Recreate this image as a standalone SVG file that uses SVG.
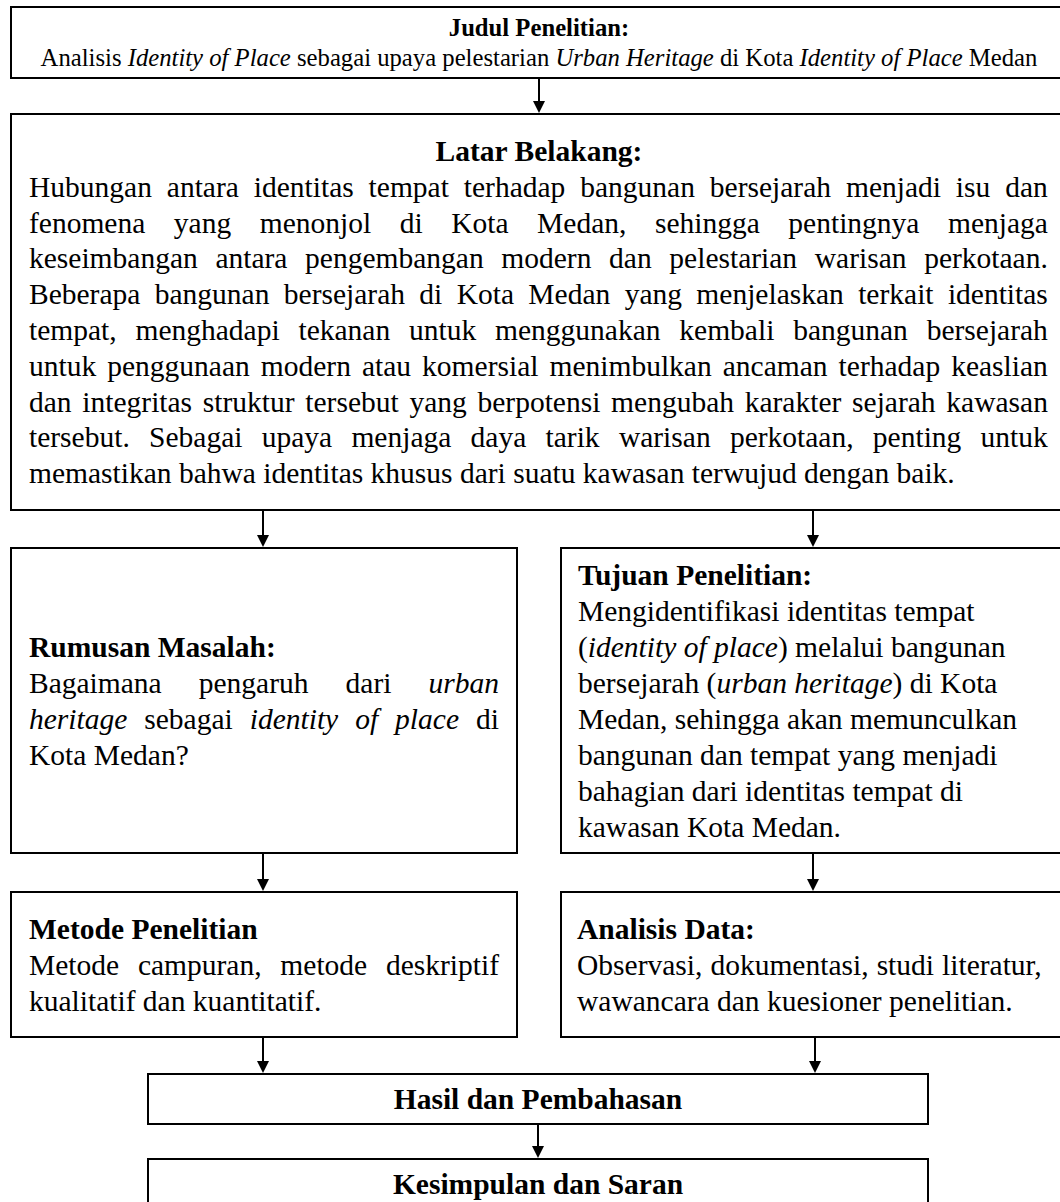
<svg xmlns="http://www.w3.org/2000/svg" width="1060" height="1202" viewBox="0 0 1060 1202">
<defs>
<style>
.box{fill:#fff;stroke:#000;stroke-width:2}
.t{font-family:"Liberation Serif","Times New Roman",serif;font-size:29.5px;fill:#000}
.s{font-family:"Liberation Serif","Times New Roman",serif;font-size:24.7px;fill:#000}
.b{font-weight:bold}
.i{font-style:italic}
.c{text-anchor:middle}
.conn line{stroke:#000;stroke-width:2;marker-end:url(#ah)}
</style>
<marker id="ah" viewBox="0 0 12 12" markerWidth="12" markerHeight="12" refX="4" refY="6" orient="auto" markerUnits="userSpaceOnUse">
<path d="M0,0 L12,6 L0,12 z" fill="#000"/>
</marker>
</defs>
<rect width="1060" height="1202" fill="#fff"/>

<g id="judul">
<rect class="box" x="11" y="7" width="1056" height="71"/>
<text class="s b c" x="539" y="35.5">Judul Penelitian:</text>
<text class="s c" x="539" y="65.5">Analisis <tspan class="i">Identity of Place</tspan> sebagai upaya pelestarian <tspan class="i">Urban Heritage</tspan> di Kota <tspan class="i">Identity of Place</tspan> Medan</text>
</g>

<g id="latar">
<rect class="box" x="11" y="114" width="1056" height="396"/>
<text class="t b c" x="539" y="161">Latar Belakang:</text>
<text class="t" x="29" y="196.8" style="word-spacing:7.53px">Hubungan antara identitas tempat terhadap bangunan bersejarah menjadi isu dan</text>
<text class="t" x="29" y="232.6" style="word-spacing:21.17px">fenomena yang menonjol di Kota Medan, sehingga pentingnya menjaga</text>
<text class="t" x="29" y="268.4" style="word-spacing:10.28px">keseimbangan antara pengembangan modern dan pelestarian warisan perkotaan.</text>
<text class="t" x="29" y="304.2" style="word-spacing:6.99px">Beberapa bangunan bersejarah di Kota Medan yang menjelaskan terkait identitas</text>
<text class="t" x="29" y="340" style="word-spacing:11.44px">tempat, menghadapi tekanan untuk menggunakan kembali bangunan bersejarah</text>
<text class="t" x="29" y="375.8" style="word-spacing:3.66px">untuk penggunaan modern atau komersial menimbulkan ancaman terhadap keaslian</text>
<text class="t" x="29" y="411.6" style="word-spacing:3.35px">dan integritas struktur tersebut yang berpotensi mengubah karakter sejarah kawasan</text>
<text class="t" x="29" y="447.4" style="word-spacing:11.9px">tersebut. Sebagai upaya menjaga daya tarik warisan perkotaan, penting untuk</text>
<text class="t" x="29" y="483.2">memastikan bahwa identitas khusus dari suatu kawasan terwujud dengan baik.</text>
</g>

<g id="rumusan">
<rect class="box" x="11" y="548" width="506" height="305"/>
<text class="t b" x="29" y="657">Rumusan Masalah:</text>
<text class="t" x="29" y="693" style="word-spacing:29.7px">Bagaimana pengaruh dari <tspan class="i">urban</tspan></text>
<text class="t" x="29" y="729" style="word-spacing:9.6px"><tspan class="i">heritage</tspan> sebagai <tspan class="i">identity of place</tspan> di</text>
<text class="t" x="29" y="765">Kota Medan?</text>
</g>

<g id="tujuan">
<rect class="box" x="561" y="548" width="506" height="305"/>
<text class="t b" x="578" y="584.5">Tujuan Penelitian:</text>
<text class="t" x="578" y="620.5">Mengidentifikasi identitas tempat</text>
<text class="t" x="578" y="656.5">(<tspan class="i">identity of place</tspan>) melalui bangunan</text>
<text class="t" x="578" y="692.5">bersejarah (<tspan class="i">urban heritage</tspan>) di Kota</text>
<text class="t" x="578" y="728.5">Medan, sehingga akan memunculkan</text>
<text class="t" x="578" y="764.5">bangunan dan tempat yang menjadi</text>
<text class="t" x="578" y="800.5">bahagian dari identitas tempat di</text>
<text class="t" x="578" y="836.5">kawasan Kota Medan.</text>
</g>

<g id="metode">
<rect class="box" x="11" y="892" width="506" height="145"/>
<text class="t b" x="29" y="938.5">Metode Penelitian</text>
<text class="t" x="29" y="974.5" style="word-spacing:11.4px">Metode campuran, metode deskriptif</text>
<text class="t" x="29" y="1010.5">kualitatif dan kuantitatif.</text>
</g>

<g id="analisis">
<rect class="box" x="561" y="892" width="506" height="145"/>
<text class="t b" x="577" y="938.5">Analisis Data:</text>
<text class="t" x="577" y="974.5" style="word-spacing:0.7px">Observasi, dokumentasi, studi literatur,</text>
<text class="t" x="577" y="1010.5">wawancara dan kuesioner penelitian.</text>
</g>

<g id="hasil">
<rect class="box" x="148" y="1074" width="780" height="50"/>
<text class="t b c" x="538" y="1109">Hasil dan Pembahasan</text>
</g>

<g id="kesimpulan">
<rect class="box" x="148" y="1159" width="780" height="50"/>
<text class="t b c" x="538" y="1194">Kesimpulan dan Saran</text>
</g>

<g id="connectors" class="conn">
<line x1="539" y1="79" x2="539" y2="105"/>
<line x1="263" y1="511" x2="263" y2="539"/>
<line x1="813" y1="511" x2="813" y2="539"/>
<line x1="263" y1="854" x2="263" y2="883"/>
<line x1="813" y1="854" x2="813" y2="883"/>
<line x1="263" y1="1038" x2="263" y2="1065"/>
<line x1="815" y1="1038" x2="815" y2="1065"/>
<line x1="538" y1="1125" x2="538" y2="1150"/>
</g>
</svg>
